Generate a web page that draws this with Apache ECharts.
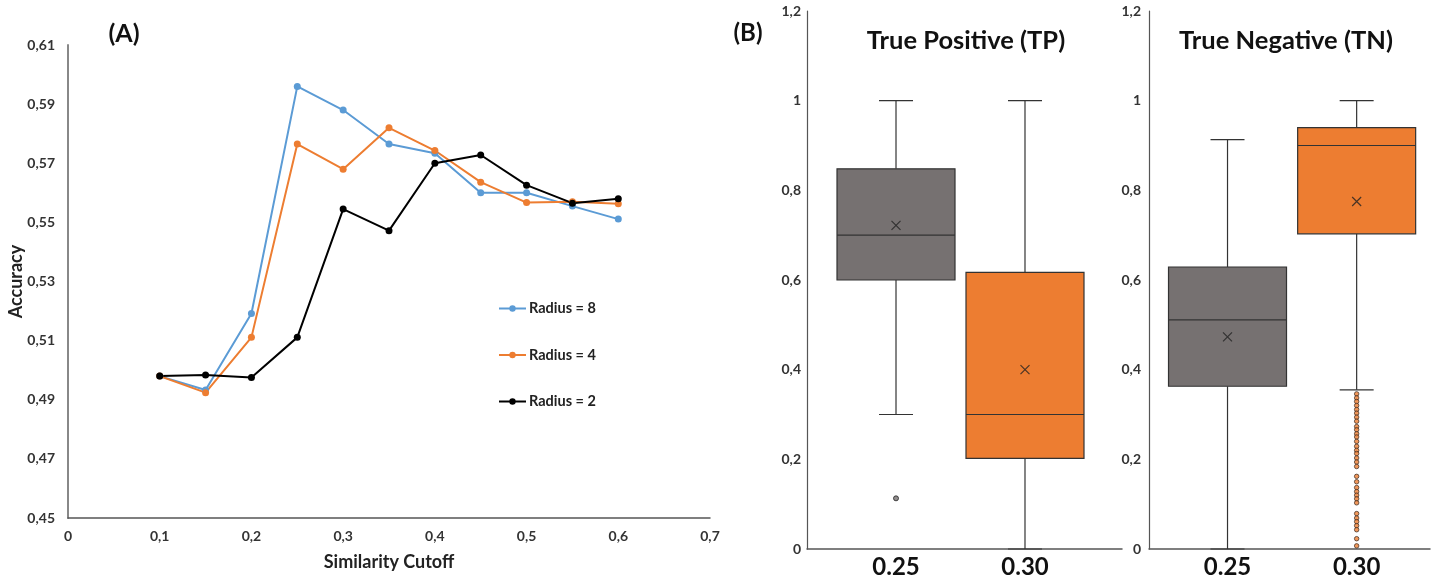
<!DOCTYPE html>
<html>
	<head>
		<meta charset="utf-8">
		<title>Accuracy / TP TN</title>
		<script src="https://cdn.jsdelivr.net/npm/echarts@6/dist/echarts.min.js"></script>
		<style>
			html, body { margin: 0; padding: 0; background: #fff; }
			#main { width: 1437px; height: 579px; }
		</style>
	</head>
	<body>
		<div id="main"></div>
		<script>
			// (A) accuracy vs similarity cutoff
			var cutoffs = [0.1, 0.15, 0.2, 0.25, 0.3, 0.35, 0.4, 0.45, 0.5, 0.55, 0.6];
			var radius8 = [0.498, 0.4933, 0.5192, 0.596, 0.588, 0.5765, 0.5734, 0.560, 0.560, 0.5555, 0.5511];
			var radius4 = [0.498, 0.4924, 0.5111, 0.5765, 0.568, 0.582, 0.5743, 0.5636, 0.5567, 0.557, 0.5563];
			var radius2 = [0.498, 0.4984, 0.4975, 0.5111, 0.5545, 0.5472, 0.570, 0.5728, 0.5626, 0.5565, 0.558];

			// (B) boxes: [min, Q1, median, Q3, max]
			var boxCats = [0.25, 0.30];
			var tpBox = [[0.30, 0.60, 0.70, 0.848, 1.0], [0, 0.202, 0.30, 0.617, 1.0]];
			var tpMean = [0.722, 0.40];
			var tpOut25 = [0.113];
			var tnBox = [[0, 0.363, 0.511, 0.629, 0.913], [0.355, 0.703, 0.90, 0.94, 1.0]];
			var tnMean = [0.473, 0.775];
			var tnOut30 = [0.346, 0.337, 0.329, 0.320, 0.311, 0.303, 0.294, 0.285, 0.273, 0.266, 0.257, 0.250,
				0.240, 0.229, 0.220, 0.213, 0.203, 0.194, 0.184, 0.162, 0.150, 0.137, 0.128, 0.120, 0.112,
				0.103, 0.079, 0.069, 0.061, 0.052, 0.043, 0.023, 0.007];

			var boxColors = ['#767171', '#ED7D31'];
			var font = 'Lato, "Open Sans", sans-serif';

			function pairs(xs, ys) {
				return ys.map(function (v, i) { return [xs[i], v]; });
			}
			function boxData(box) {
				return box.map(function (b, i) { return [boxCats[i]].concat(b); });
			}
			function comma(v, d) {
				return String(+v.toFixed(d)).replace('.', ',');
			}

			function renderBox(params, api) {
				var x = api.value(0);
				var lo = api.coord([x, api.value(1)]);
				var q1 = api.coord([x, api.value(2)]);
				var md = api.coord([x, api.value(3)]);
				var q3 = api.coord([x, api.value(4)]);
				var hi = api.coord([x, api.value(5)]);
				var half = 59, cap = 17;
				var ls = { stroke: '#333', lineWidth: 1.2 };
				return {
					type: 'group',
					children: [
						{ type: 'line', shape: { x1: lo[0], y1: lo[1], x2: q1[0], y2: q1[1] }, style: ls },
						{ type: 'line', shape: { x1: hi[0], y1: hi[1], x2: q3[0], y2: q3[1] }, style: ls },
						{ type: 'line', shape: { x1: hi[0] - cap, y1: hi[1], x2: hi[0] + cap, y2: hi[1] }, style: ls },
						{ type: 'line', shape: { x1: lo[0] - cap, y1: lo[1], x2: lo[0] + cap, y2: lo[1] }, style: ls },
						{ type: 'rect', shape: { x: q3[0] - half, y: q3[1], width: half * 2, height: q1[1] - q3[1] },
							style: { fill: boxColors[params.dataIndex], stroke: '#333', lineWidth: 1.2 } },
						{ type: 'line', shape: { x1: md[0] - half, y1: md[1], x2: md[0] + half, y2: md[1] }, style: ls }
					]
				};
			}

			var boxYAxis = {
				type: 'value', min: 0, max: 1.2, interval: 0.2,
				axisLine: { show: true, lineStyle: { color: '#555', width: 1.2 } },
				axisTick: { show: false },
				splitLine: { show: false },
				axisLabel: { color: '#333', fontWeight: 'bold', fontSize: 14, fontFamily: font, margin: 6,
					formatter: function (v) { return comma(v, 1); } }
			};
			function boxXAxis(idx, min, max) {
				return {
					type: 'value', gridIndex: idx, min: min, max: max,
					axisLine: { show: true, onZero: false, lineStyle: { color: '#555', width: 1.5 } },
					axisTick: { show: false },
					splitLine: { show: false },
					axisLabel: { customValues: boxCats, color: '#111', fontWeight: 'bold', fontSize: 24, fontFamily: font, margin: 6,
						formatter: function (v) { return v.toFixed(2); } }
				};
			}

			var chart = echarts.init(document.getElementById('main'));
			var option = {
				animation: false,
				textStyle: { fontFamily: font },
				grid: [
					{ left: 68, top: 45, width: 642, height: 473 },
					{ left: 807, top: 11, width: 315, height: 538 },
					{ left: 1149, top: 11, width: 281, height: 538 }
				],
				graphic: [
					{ type: 'text', x: 124, y: 34, style: { text: '(A)', fontSize: 25, fontWeight: 'bold', fontFamily: font, fill: '#111', textAlign: 'center', textVerticalAlign: 'middle' } },
					{ type: 'text', x: 748, y: 33, style: { text: '(B)', fontSize: 24, fontWeight: 'bold', fontFamily: font, fill: '#111', textAlign: 'center', textVerticalAlign: 'middle' } },
					{ type: 'text', x: 966, y: 41, style: { text: 'True Positive (TP)', fontSize: 25.5, fontWeight: 'bold', fontFamily: font, fill: '#111', textAlign: 'center', textVerticalAlign: 'middle' } },
					{ type: 'text', x: 1286, y: 41, style: { text: 'True Negative (TN)', fontSize: 25.5, fontWeight: 'bold', fontFamily: font, fill: '#111', textAlign: 'center', textVerticalAlign: 'middle' } }
				],
				legend: {
					left: 498, top: 301, orient: 'vertical', itemGap: 31.5, padding: 0,
					itemWidth: 27, itemHeight: 8,
					textStyle: { color: '#222', fontWeight: 'bold', fontSize: 14.5, fontFamily: font, padding: [0, 0, 0, -2] },
					data: ['Radius = 8', 'Radius = 4', 'Radius = 2']
				},
				xAxis: [
					{
						type: 'value', gridIndex: 0, min: 0, max: 0.7, interval: 0.1,
						name: 'Similarity Cutoff', nameLocation: 'middle', nameGap: 35,
						nameTextStyle: { color: '#222', fontWeight: 'bold', fontSize: 18, fontFamily: font },
						axisLine: { lineStyle: { color: '#555', width: 1.5 } },
						axisTick: { show: false },
						splitLine: { show: false },
						axisLabel: { color: '#333', fontWeight: 'bold', fontSize: 14, margin: 11,
							formatter: function (v) { return comma(v, 1); } }
					},
					boxXAxis(1, 0.2155, 0.3376),
					boxXAxis(2, 0.2196, 0.3284)
				],
				yAxis: [
					{
						type: 'value', gridIndex: 0, min: 0.45, max: 0.61, interval: 0.02,
						name: 'Accuracy', nameLocation: 'middle', nameGap: 43, nameMoveOverlap: false,
						nameTextStyle: { color: '#222', fontWeight: 'bold', fontSize: 18, fontFamily: font },
						axisLine: { show: true, lineStyle: { color: '#888', width: 2 } },
						axisTick: { show: false },
						splitLine: { show: false },
						axisLabel: { color: '#333', fontWeight: 'bold', fontSize: 14, margin: 13,
							formatter: function (v) { return v.toFixed(2).replace('.', ','); } }
					},
					Object.assign({ gridIndex: 1 }, boxYAxis),
					Object.assign({ gridIndex: 2 }, boxYAxis, { axisLabel: Object.assign({}, boxYAxis.axisLabel, { margin: 8 }) })
				],
				series: [
					{ name: 'Radius = 8', type: 'line', data: pairs(cutoffs, radius8), symbol: 'circle', symbolSize: 7,
						itemStyle: { color: '#5B9BD5' }, lineStyle: { width: 2 } },
					{ name: 'Radius = 4', type: 'line', data: pairs(cutoffs, radius4), symbol: 'circle', symbolSize: 7,
						itemStyle: { color: '#ED7D31' }, lineStyle: { width: 2 } },
					{ name: 'Radius = 2', type: 'line', data: pairs(cutoffs, radius2), symbol: 'circle', symbolSize: 7,
						itemStyle: { color: '#000' }, lineStyle: { width: 2 } },

					// True Positive
					{ type: 'custom', xAxisIndex: 1, yAxisIndex: 1, renderItem: renderBox, data: boxData(tpBox) },
					{ type: 'scatter', xAxisIndex: 1, yAxisIndex: 1, data: pairs(boxCats, tpMean), z: 5,
						symbol: 'path://M0,0L10,10M10,0L0,10', symbolSize: 9,
						itemStyle: { color: 'none', borderColor: '#222', borderWidth: 1.2 } },
					{ type: 'scatter', xAxisIndex: 1, yAxisIndex: 1, data: tpOut25.map(function (v) { return [boxCats[0], v]; }), z: 5,
						symbol: 'circle', symbolSize: 5,
						itemStyle: { color: '#767171', borderColor: '#222', borderWidth: 1 } },

					// True Negative
					{ type: 'custom', xAxisIndex: 2, yAxisIndex: 2, renderItem: renderBox, data: boxData(tnBox) },
					{ type: 'scatter', xAxisIndex: 2, yAxisIndex: 2, data: pairs(boxCats, tnMean), z: 5,
						symbol: 'path://M0,0L10,10M10,0L0,10', symbolSize: 9,
						itemStyle: { color: 'none', borderColor: '#222', borderWidth: 1.2 } },
					{ type: 'scatter', xAxisIndex: 2, yAxisIndex: 2, data: tnOut30.map(function (v) { return [boxCats[1], v]; }), z: 5,
						symbol: 'circle', symbolSize: 4.5,
						itemStyle: { color: '#ED7D31', borderColor: '#3a2a20', borderWidth: 0.9 } }
				]
			};
			chart.setOption(option);
		</script>
	</body>
</html>
